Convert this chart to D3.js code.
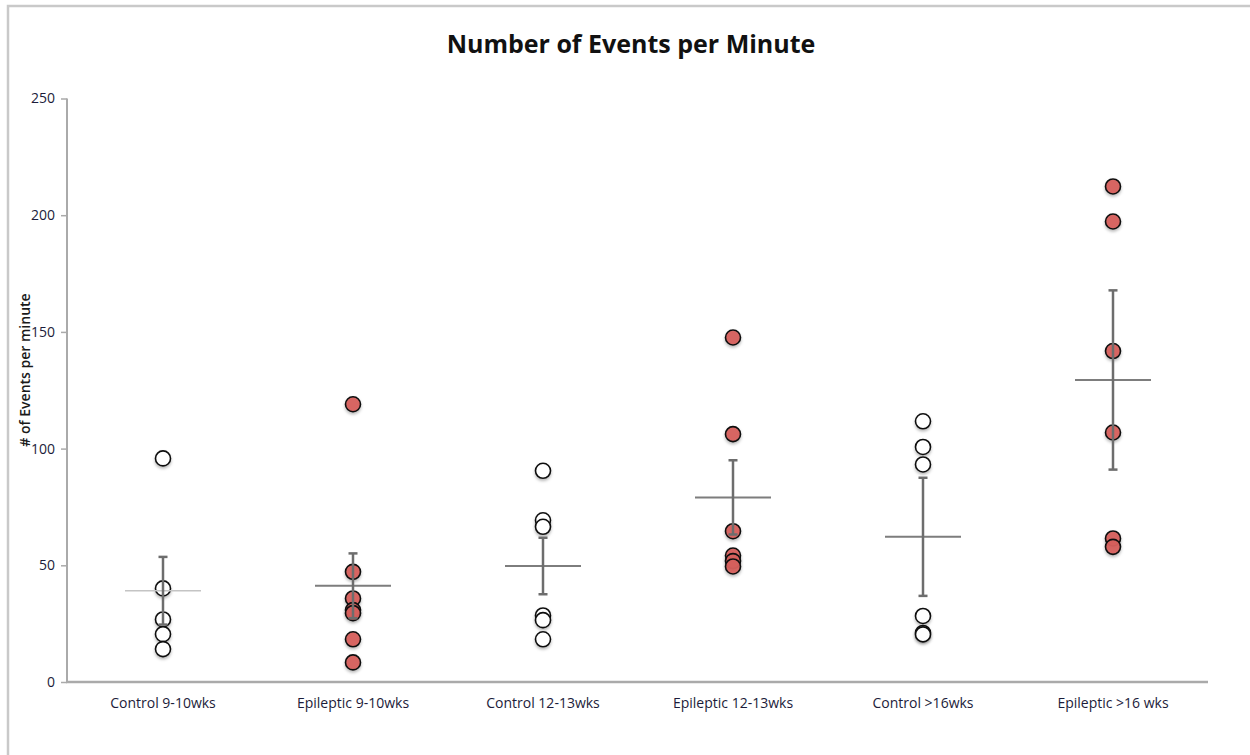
<!DOCTYPE html>
<html>
<head>
<meta charset="utf-8">
<script src="https://cdn.jsdelivr.net/npm/d3@7"></script>
<style>
  html, body { margin: 0; padding: 0; background: #fff; }
  svg { display: block; font-family: "Open Sans", Lato, sans-serif; }
</style>
</head>
<body>
<svg id="chart" width="1250" height="755"></svg>
<script>
// Group labels along the x axis
const categories = ["Control 9-10wks", "Epileptic 9-10wks", "Control 12-13wks",
                    "Epileptic 12-13wks", "Control >16wks", "Epileptic >16 wks"];

// Individual animals, events per minute
const control9to10   = [95.8, 40.1, 26.8, 20.5, 14.1];
const epileptic9to10 = [119.0, 47.2, 35.8, 30.8, 29.5, 18.3, 8.4];
const control12to13  = [90.5, 69.3, 66.5, 28.5, 26.5, 18.3];
const epileptic12to13 = [147.6, 106.2, 64.6, 54.2, 51.8, 49.5];
const control16plus  = [111.7, 100.7, 93.2, 28.3, 21.0, 20.4];
const epileptic16plus = [212.3, 197.3, 141.8, 106.9, 61.5, 57.9];

// Group mean and error-bar half length
const groupMeans  = [39.1, 41.2, 49.7, 79.1, 62.2, 129.4];
const groupErrors = [14.5, 13.9, 12.1, 15.9, 25.3, 38.4];

// Which groups are epileptic (filled) vs control (open)
const groupKinds = ["control", "epileptic", "control", "epileptic", "control", "epileptic"];

const yTicks = [0, 50, 100, 150, 200, 250];

const groupValues = [control9to10, epileptic9to10, control12to13,
                     epileptic12to13, control16plus, epileptic16plus];

const svg = d3.select("#chart");

// outer chart frame
svg.append("rect")
  .attr("x", 8).attr("y", 6)
  .attr("width", 1260).attr("height", 780)
  .attr("fill", "none")
  .attr("stroke", "#c9c9c9")
  .attr("stroke-width", 2.5);

const defs = svg.append("defs");
const shadow = defs.append("filter").attr("id", "soft").attr("x", "-50%").attr("y", "-50%")
  .attr("width", "200%").attr("height", "200%");
shadow.append("feDropShadow").attr("dx", 0).attr("dy", 2).attr("stdDeviation", 1.6)
  .attr("flood-color", "#000").attr("flood-opacity", 0.28);

const x = d3.scaleBand().domain(categories).range([68, 1208]);
const y = d3.scaleLinear().domain([0, 250]).range([682, 98.5]);

// title
svg.append("text")
  .attr("x", 631).attr("y", 53)
  .attr("text-anchor", "middle")
  .attr("font-size", 25)
  .attr("font-weight", "bold")
  .attr("fill", "#111")
  .text("Number of Events per Minute");

// y axis
const yAxis = svg.append("g")
  .attr("transform", "translate(67,0)")
  .call(d3.axisLeft(y).tickValues(yTicks).tickSize(6).tickPadding(6).tickFormat(d3.format("d")));
yAxis.select(".domain").attr("stroke", "#aaaaaa").attr("stroke-width", 2)
  .attr("d", `M0,${y(0)}V${y(250)}`);
yAxis.selectAll(".tick line").attr("stroke", "#aaaaaa").attr("stroke-width", 1.5);
yAxis.selectAll(".tick text").attr("font-size", 14).attr("fill", "#1c1c3a")
  .attr("font-family", "'Open Sans', sans-serif");

// x axis
const xAxis = svg.append("g")
  .attr("transform", `translate(0,${y(0)})`)
  .call(d3.axisBottom(x).tickSize(0).tickPadding(16));
xAxis.select(".domain").attr("stroke", "#aaaaaa").attr("stroke-width", 2.5)
  .attr("d", "M66,0H1208");
xAxis.selectAll(".tick text").attr("font-size", 14).attr("fill", "#1c1c3a")
  .attr("font-family", "'Open Sans', sans-serif");

// y axis title
svg.append("text")
  .attr("transform", "translate(30,370) rotate(-90)")
  .attr("text-anchor", "middle")
  .attr("font-size", 14)
  .attr("font-weight", 600)
  .attr("fill", "#1a1a1a")
  .text("# of Events per minute");

// individual points
const points = [];
groupValues.forEach((vals, i) => {
  vals.forEach(v => points.push({ cat: categories[i], kind: groupKinds[i], v }));
});

svg.append("g").selectAll("circle")
  .data(points)
  .join("circle")
  .attr("cx", d => x(d.cat) + x.bandwidth() / 2)
  .attr("cy", d => y(d.v))
  .attr("r", 7.5)
  .attr("fill", d => d.kind === "epileptic" ? "#d6605d" : "#ffffff")
  .attr("fill-opacity", d => d.kind === "epileptic" ? 0.95 : 1)
  .attr("stroke", "#111")
  .attr("stroke-width", 1.6)
  .attr("filter", "url(#soft)");

// mean lines and error bars
const summary = categories.map((c, i) => ({ cat: c, mean: groupMeans[i], err: groupErrors[i], i }));
const sg = svg.append("g");
sg.selectAll("line.mean")
  .data(summary)
  .join("line")
  .attr("class", "mean")
  .attr("x1", d => x(d.cat) + x.bandwidth() / 2 - 38)
  .attr("x2", d => x(d.cat) + x.bandwidth() / 2 + 38)
  .attr("y1", d => y(d.mean))
  .attr("y2", d => y(d.mean))
  .attr("stroke", d => d.i === 0 ? "#c4c4c4" : "#7d7d7d")
  .attr("stroke-width", d => d.i === 0 ? 1.5 : 2);

sg.selectAll("line.err")
  .data(summary)
  .join("line")
  .attr("class", "err")
  .attr("x1", d => x(d.cat) + x.bandwidth() / 2)
  .attr("x2", d => x(d.cat) + x.bandwidth() / 2)
  .attr("y1", d => y(d.mean - d.err))
  .attr("y2", d => y(d.mean + d.err))
  .attr("stroke", "#6d6d6d")
  .attr("stroke-width", 2.5);

["lo", "hi"].forEach(end => {
  sg.selectAll(`line.cap-${end}`)
    .data(summary)
    .join("line")
    .attr("class", `cap-${end}`)
    .attr("x1", d => x(d.cat) + x.bandwidth() / 2 - 4.5)
    .attr("x2", d => x(d.cat) + x.bandwidth() / 2 + 4.5)
    .attr("y1", d => y(end === "hi" ? d.mean + d.err : d.mean - d.err))
    .attr("y2", d => y(end === "hi" ? d.mean + d.err : d.mean - d.err))
    .attr("stroke", "#6d6d6d")
    .attr("stroke-width", 2.5);
});
</script>
</body>
</html>
